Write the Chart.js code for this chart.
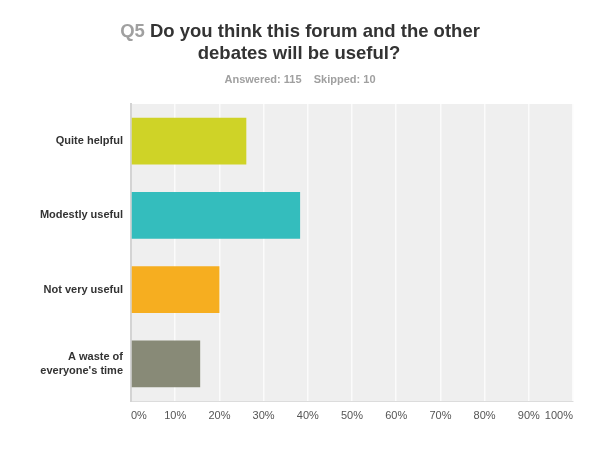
<!DOCTYPE html>
<html>
<head>
<meta charset="utf-8">
<script src="https://cdn.jsdelivr.net/npm/chart.js@4/dist/chart.umd.min.js"></script>
<style>
    html, body { margin: 0; padding: 0; background: #fff; }
    #wrap { width: 600px; height: 468px; position: relative; }
</style>
</head>
<body>
<div id="wrap"><canvas id="surveyChart"></canvas></div>
<script>
// survey.js
// Q5 answer shares, drawn as a horizontal bar chart

const categories = ['Quite helpful', 'Modestly useful', 'Not very useful', ["A waste of", "everyone's time"]];
const shares = [26.09, 38.26, 20.0, 15.65];
const barColors = ['#cfd327', '#34bdbd', '#f6ae20', '#888a77'];
const tickLabels = ['0%', '10%', '20%', '30%', '40%', '50%', '60%', '70%', '80%', '90%', '100%'];

const fontFamily = 'Arial, "Liberation Sans", sans-serif';

// Gray plot background behind the bars
const plotBackground = {
    id: 'plotBackground',
    beforeDraw(chart) {
        const { ctx, chartArea } = chart;
        ctx.save();
        ctx.fillStyle = '#efefef';
        ctx.fillRect(chartArea.left, chartArea.top, chartArea.right - chartArea.left, chartArea.bottom - chartArea.top);
        ctx.restore();
    }
};

// Title with grey question number, plus answered/skipped line
const surveyTitle = {
    id: 'surveyTitle',
    afterDraw(chart) {
        const ctx = chart.ctx;
        ctx.save();
        ctx.textBaseline = 'middle';
        ctx.font = 'bold 18.5px ' + fontFamily;

        const qText = 'Q5 ';
        const line1 = 'Do you think this forum and the other';
        const qWidth = ctx.measureText(qText).width;
        const l1Width = ctx.measureText(line1).width;
        let x = 300 - (qWidth + l1Width) / 2;
        ctx.textAlign = 'left';
        ctx.fillStyle = '#a0a0a0';
        ctx.fillText(qText, x, 32);
        ctx.fillStyle = '#333333';
        ctx.fillText(line1, x + qWidth, 32);

        ctx.textAlign = 'center';
        ctx.fillText('debates will be useful?', 299, 54);

        ctx.font = 'bold 11px ' + fontFamily;
        ctx.fillStyle = '#a0a0a0';
        ctx.fillText('Answered: 115    Skipped: 10', 300, 80);
        ctx.restore();
    }
};

new Chart(document.getElementById('surveyChart'), {
    type: 'bar',
    data: {
        labels: categories,
        datasets: [{
            data: shares,
            backgroundColor: barColors,
            borderWidth: 0,
            barPercentage: 0.63,
            categoryPercentage: 1.0
        }]
    },
    options: {
        indexAxis: 'y',
        responsive: true,
        maintainAspectRatio: false,
        animation: false,
        layout: {
            padding: { top: 104, right: 27, bottom: 0, left: 0 }
        },
        plugins: {
            legend: { display: false },
            tooltip: { enabled: false }
        },
        scales: {
            x: {
                min: 0,
                max: 100,
                afterFit: axis => { axis.height = 67; },
                afterBuildTicks: axis => {
                    axis.ticks = tickLabels.map((t, i) => ({ value: i * 10 }));
                },
                ticks: {
                    callback: (value, index) => tickLabels[index],
                    color: '#555555',
                    font: { family: fontFamily, size: 11 },
                    padding: 8,
                    align: 'inner',
                    maxRotation: 0,
                    autoSkip: false
                },
                grid: {
                    color: '#fbfbfb',
                    lineWidth: 1.5,
                    drawTicks: false
                },
                border: { display: true, color: '#dcdcdc', width: 1 }
            },
            y: {
                afterFit: axis => { axis.width = 131; },
                ticks: {
                    color: '#333333',
                    font: { family: fontFamily, size: 11, weight: 'bold', lineHeight: 1.2 },
                    padding: 8
                },
                grid: { display: false, drawTicks: false },
                border: { display: true, color: '#d4d4d4', width: 2 }
            }
        }
    },
    plugins: [plotBackground, surveyTitle]
});
</script>
</body>
</html>
